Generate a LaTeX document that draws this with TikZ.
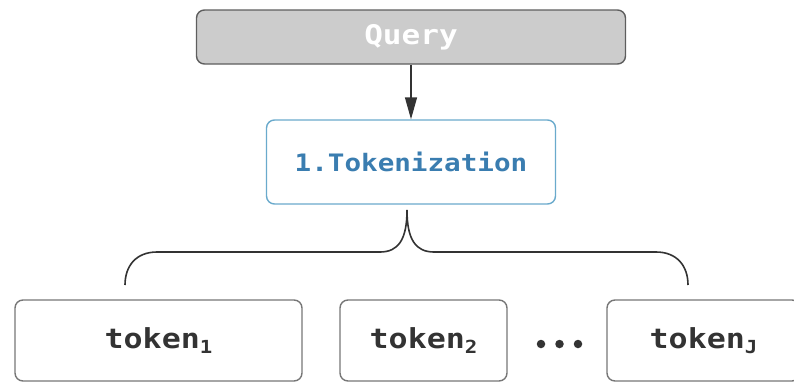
\documentclass[tikz,border=0pt]{standalone}
\usepackage{fontspec}
\newfontfamily\labelmono{DejaVu Sans Mono}[FakeStretch=1.15]
\usetikzlibrary{arrows.meta}

\definecolor{qfill}{HTML}{CCCCCC}
\definecolor{qline}{HTML}{5E5E5E}
\definecolor{tokline}{HTML}{6AAACC}
\definecolor{toktext}{HTML}{3A7DB0}
\definecolor{boxline}{HTML}{777777}
\definecolor{inktext}{HTML}{333333}

% subscript set a little below the baseline
\newcommand{\tksub}[1]{\raisebox{-5pt}{\fontsize{18}{18}\selectfont #1}}

\tikzset{
  box/.style={draw, rounded corners=8pt, line width=1.4pt, inner sep=0pt},
  querybox/.style={box, fill=qfill, draw=qline, text=white,
    font=\labelmono\bfseries\fontsize{27}{30}\selectfont},
  stagebox/.style={box, fill=white, draw=tokline, text=toktext,
    font=\labelmono\bfseries\fontsize{24}{30}\selectfont},
  tokenbox/.style={box, fill=white, draw=boxline, text=inktext,
    font=\labelmono\bfseries\fontsize{27.5}{30}\selectfont},
  dotmark/.style={circle, fill=inktext, inner sep=0pt, minimum size=8.5pt},
  link/.style={draw=black!80, line width=1.4pt},
}

\begin{document}
\begin{tikzpicture}[x=1pt, y=-1pt]
\useasboundingbox (0,0) rectangle (794,383);

\node[querybox, minimum width=429pt, minimum height=54pt] (query) at (411,37) {Query};
\node[stagebox, minimum width=289pt, minimum height=84pt] (tok) at (411,162) {1.Tokenization};

\node[tokenbox, minimum width=287pt, minimum height=81pt] (t1) at (158.5,340.5) {token\tksub{1}};
\node[tokenbox, minimum width=167pt, minimum height=81pt] (t2) at (423.5,340.5) {token\tksub{2}};
\node[tokenbox, minimum width=193pt, minimum height=81pt] (tJ) at (703.5,340.5) {token\tksub{J}};

\node[dotmark] (d1) at (541,344) {};
\node[dotmark] (d2) at (559.5,344) {};
\node[dotmark] (d3) at (578,344) {};

% arrow from the query into the tokenization stage
\draw[link, -{Triangle[length=22pt, width=12pt]}] (query.south) -- (tok.north);

% brace fanning the tokenization out to the tokens
\coordinate (tip) at (407,210);
\coordinate (bl) at (125,285);
\coordinate (br) at (688,285);
\draw[link, line width=1.6pt]
  (bl) .. controls (125,266) and (136,252) .. (157,252)
  -- (380,252) .. controls (398,252) and (407,240) .. (tip)
  .. controls (407,240) and (416,252) .. (434,252)
  -- (656,252) .. controls (677,252) and (688,266) .. (br);
\end{tikzpicture}
\end{document}
